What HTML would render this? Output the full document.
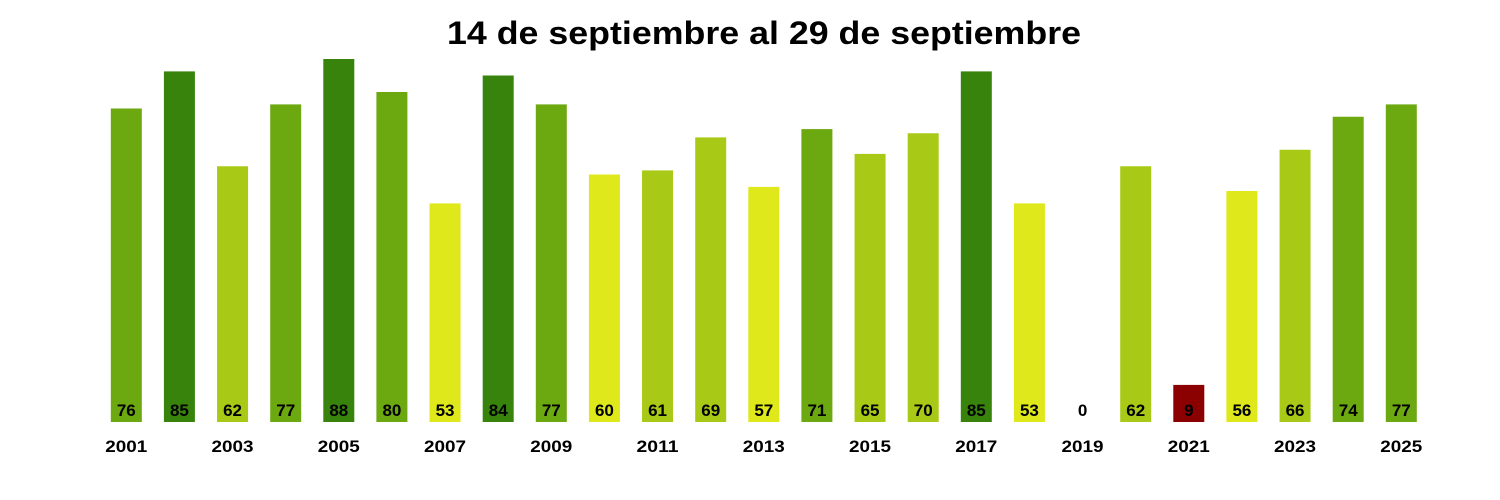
<!DOCTYPE html>
<html><head><meta charset="utf-8"><style>html,body{margin:0;padding:0;background:#fff}svg{display:block}</style></head>
<body>
<svg width="1500" height="500" xmlns="http://www.w3.org/2000/svg" font-family="Liberation Sans, Arial, sans-serif" font-weight="bold">
<rect width="1500" height="500" fill="#fff"/>
<text x="764" y="44" font-size="32" text-anchor="middle" textLength="634" lengthAdjust="spacingAndGlyphs">14 de septiembre al 29 de septiembre</text>
<g>
<rect x="110.8" y="108.5" width="31" height="313.5" fill="#6ca80f"/>
<rect x="163.9" y="71.4" width="31" height="350.6" fill="#37830b"/>
<rect x="217.05" y="166.25" width="31" height="255.75" fill="#a8c916"/>
<rect x="270.2" y="104.4" width="31" height="317.6" fill="#6ca80f"/>
<rect x="323.3" y="59" width="31" height="363" fill="#37830b"/>
<rect x="376.4" y="92" width="31" height="330" fill="#6ca80f"/>
<rect x="429.55" y="203.4" width="31" height="218.6" fill="#dfe81a"/>
<rect x="482.7" y="75.5" width="31" height="346.5" fill="#37830b"/>
<rect x="535.8" y="104.4" width="31" height="317.6" fill="#6ca80f"/>
<rect x="588.9" y="174.5" width="31" height="247.5" fill="#dfe81a"/>
<rect x="642.05" y="170.4" width="31" height="251.6" fill="#a8c916"/>
<rect x="695.2" y="137.4" width="31" height="284.6" fill="#a8c916"/>
<rect x="748.3" y="186.9" width="31" height="235.1" fill="#dfe81a"/>
<rect x="801.4" y="129.1" width="31" height="292.9" fill="#6ca80f"/>
<rect x="854.55" y="153.9" width="31" height="268.1" fill="#a8c916"/>
<rect x="907.7" y="133.25" width="31" height="288.75" fill="#a8c916"/>
<rect x="960.8" y="71.4" width="31" height="350.6" fill="#37830b"/>
<rect x="1013.9" y="203.4" width="31" height="218.6" fill="#dfe81a"/>
<rect x="1120.2" y="166.25" width="31" height="255.75" fill="#a8c916"/>
<rect x="1173.3" y="384.9" width="31" height="37.1" fill="#8b0000"/>
<rect x="1226.4" y="191" width="31" height="231" fill="#dfe81a"/>
<rect x="1279.55" y="149.75" width="31" height="272.25" fill="#a8c916"/>
<rect x="1332.7" y="116.75" width="31" height="305.25" fill="#6ca80f"/>
<rect x="1385.8" y="104.4" width="31" height="317.6" fill="#6ca80f"/>
</g>
<g font-size="17" text-anchor="middle">
<text x="126.3" y="416">76</text>
<text x="179.4" y="416">85</text>
<text x="232.55" y="416">62</text>
<text x="285.7" y="416">77</text>
<text x="338.8" y="416">88</text>
<text x="391.9" y="416">80</text>
<text x="445.05" y="416">53</text>
<text x="498.2" y="416">84</text>
<text x="551.3" y="416">77</text>
<text x="604.4" y="416">60</text>
<text x="657.55" y="416">61</text>
<text x="710.7" y="416">69</text>
<text x="763.8" y="416">57</text>
<text x="816.9" y="416">71</text>
<text x="870.05" y="416">65</text>
<text x="923.2" y="416">70</text>
<text x="976.3" y="416">85</text>
<text x="1029.4" y="416">53</text>
<text x="1082.55" y="416">0</text>
<text x="1135.7" y="416">62</text>
<text x="1188.8" y="416">9</text>
<text x="1241.9" y="416">56</text>
<text x="1295.05" y="416">66</text>
<text x="1348.2" y="416">74</text>
<text x="1401.3" y="416">77</text>
</g>
<g font-size="17" text-anchor="middle">
<text x="126.3" y="452" textLength="42" lengthAdjust="spacingAndGlyphs">2001</text>
<text x="232.55" y="452" textLength="42" lengthAdjust="spacingAndGlyphs">2003</text>
<text x="338.8" y="452" textLength="42" lengthAdjust="spacingAndGlyphs">2005</text>
<text x="445.05" y="452" textLength="42" lengthAdjust="spacingAndGlyphs">2007</text>
<text x="551.3" y="452" textLength="42" lengthAdjust="spacingAndGlyphs">2009</text>
<text x="657.55" y="452" textLength="42" lengthAdjust="spacingAndGlyphs">2011</text>
<text x="763.8" y="452" textLength="42" lengthAdjust="spacingAndGlyphs">2013</text>
<text x="870.05" y="452" textLength="42" lengthAdjust="spacingAndGlyphs">2015</text>
<text x="976.3" y="452" textLength="42" lengthAdjust="spacingAndGlyphs">2017</text>
<text x="1082.55" y="452" textLength="42" lengthAdjust="spacingAndGlyphs">2019</text>
<text x="1188.8" y="452" textLength="42" lengthAdjust="spacingAndGlyphs">2021</text>
<text x="1295.05" y="452" textLength="42" lengthAdjust="spacingAndGlyphs">2023</text>
<text x="1401.3" y="452" textLength="42" lengthAdjust="spacingAndGlyphs">2025</text>
</g>
</svg>
</body></html>
